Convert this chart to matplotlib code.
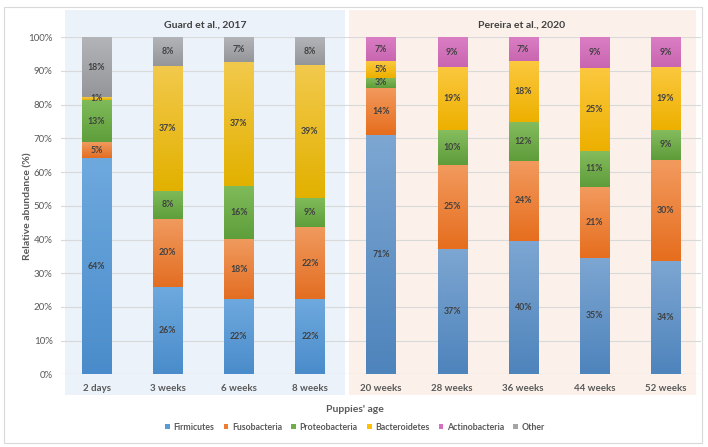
import matplotlib
matplotlib.use("Agg")
import matplotlib.pyplot as plt
import numpy as np
from matplotlib.patches import Rectangle
from matplotlib.colors import LinearSegmentedColormap

plt.rcParams['font.family'] = ['Lato', 'DejaVu Sans']

categories = ["2 days", "3 weeks", "6 weeks", "8 weeks", "20 weeks",
              "28 weeks", "36 weeks", "44 weeks", "52 weeks"]
series_names = ["Firmicutes", "Fusobacteria", "Proteobacteria",
                "Bacteroidetes", "Actinobacteria", "Other"]
firmicutes = [64.2, 26.0, 22.3, 22.2, 70.9, 37.1, 39.6, 34.6, 33.6]
fusobacteria = [4.6, 20.1, 17.8, 21.6, 14.1, 25.1, 23.8, 20.9, 29.9]
proteobacteria = [12.6, 8.4, 15.8, 8.6, 3.0, 10.3, 11.6, 10.9, 9.1]
bacteroidetes = [0.8, 37.1, 36.9, 39.4, 5.0, 18.6, 18.0, 24.6, 18.6]
actinobacteria = [0.0, 0.0, 0.0, 0.0, 7.0, 8.9, 7.0, 9.0, 8.8]
other = [17.8, 8.4, 7.2, 8.2, 0.0, 0.0, 0.0, 0.0, 0.0]
panel_titles = ["Guard et al., 2017", "Pereira et al., 2020"]
yticks = [0, 10, 20, 30, 40, 50, 60, 70, 80, 90, 100]

series = [firmicutes, fusobacteria, proteobacteria, bacteroidetes, actinobacteria, other]
base_colors = ["#5B9BD5", "#ED7D31", "#70AD47", "#FFC000", "#D56FBE", "#A5A5A5"]
grad_left = [("#6EA9DE", "#4A8CCB"), ("#F09A5E", "#E36E22"), ("#80BB5A", "#5E9E3B"),
             ("#F2C94C", "#E2B100"), ("#DB80C6", "#C866B2"), ("#B2B4B8", "#94969A")]
grad_right = [("#7DA6D2", "#4E84BC"), ("#F29A5E", "#E66E1E"), ("#86BD5E", "#5E9C3A"),
              ("#FBC83E", "#EDB000"), ("#DA7EC4", "#C966B1"), ("#B2B4B8", "#94969A")]

W, H = 708, 447
fig = plt.figure(figsize=(W / 100, H / 100), dpi=100)

# outer border
fig.patches.append(Rectangle((4 / W, 4 / H), 698 / W, 436 / H, transform=fig.transFigure,
                             facecolor="white", edgecolor="#D9D9D9", lw=0.8, zorder=-10))
# panel backgrounds
fig.patches.append(Rectangle((65 / W, 1 - 395 / H), 280 / W, 385 / H, transform=fig.transFigure,
                             facecolor="#EBF2FA", edgecolor="none", zorder=-5))
fig.patches.append(Rectangle((349 / W, 1 - 395 / H), 347 / W, 385 / H, transform=fig.transFigure,
                             facecolor="#FBF1EA", edgecolor="none", zorder=-5))

ax = fig.add_axes([61 / W, 72.7 / H, 640 / W, 337 / H])
ax.set_facecolor("none")
x = np.arange(len(categories))
bottom = np.zeros(len(categories))
bar_containers = []
for vals, col in zip(series, base_colors):
    vals = np.array(vals)
    bc = ax.bar(x, vals, width=0.41, bottom=bottom, color=col, zorder=2, linewidth=0)
    bar_containers.append(bc)
    bottom += vals

# gradients and labels
for si, bc in enumerate(bar_containers):
    for i, rect in enumerate(bc):
        h = rect.get_height()
        if h <= 0:
            continue
        x0, y0, w = rect.get_x(), rect.get_y(), rect.get_width()
        top_c, bot_c = (grad_left if i < 4 else grad_right)[si]
        cmap = LinearSegmentedColormap.from_list("g", [bot_c, top_c])
        grad = np.linspace(0, 1, 50).reshape(-1, 1)
        ax.imshow(grad, extent=[x0, x0 + w, y0, y0 + h], origin="lower", cmap=cmap,
                  aspect="auto", zorder=3, interpolation="bilinear")
        ax.text(x0 + w / 2, y0 + h / 2, f"{series[si][i]:.0f}%", ha="center", va="center",
                fontsize=6.3, fontweight="bold", color="#404040", zorder=4)

ax.set_xlim(-0.5, len(categories) - 0.5)
ax.set_ylim(0, 100)
ax.set_yticks(yticks)
ax.set_yticklabels([f"{t}%" for t in yticks])
ax.set_xticks(x)
ax.set_xticklabels(categories, fontweight="bold")
ax.tick_params(axis="y", length=0, pad=6, labelsize=7, labelcolor="#595959")
ax.tick_params(axis="x", length=0, pad=7, labelsize=7, labelcolor="#595959")
ax.grid(axis="y", color="#D9D9D9", lw=0.8, zorder=0)
for s in ax.spines.values():
    s.set_visible(False)
ax.axhline(0, color="#D9D9D9", lw=0.8, zorder=1)

ax.set_ylabel("Relative abundance (%)", fontsize=7.5, fontweight="bold", color="#595959")
ax.yaxis.set_label_coords(-0.045, 0.5)
fig.text(355 / W, 1 - 409 / H, "Puppies' age", ha="center", va="center",
         fontsize=7.5, fontweight="bold", color="#595959")
fig.text(205 / W, 1 - 25 / H, panel_titles[0], ha="center", va="center",
         fontsize=7.5, fontweight="bold", color="#404040")
fig.text(522 / W, 1 - 25 / H, panel_titles[1], ha="center", va="center",
         fontsize=7.5, fontweight="bold", color="#404040")

leg = fig.legend([bc[0] for bc in bar_containers], series_names, loc="center",
                 bbox_to_anchor=(355 / W, 1 - 427 / H), ncol=6, frameon=False,
                 fontsize=6.3, handlelength=0.55, handleheight=0.55, handletextpad=0.4,
                 columnspacing=1.05)
for t in leg.get_texts():
    t.set_color("#595959")
    t.set_fontweight("bold")

fig.savefig("out.png", dpi=100)
